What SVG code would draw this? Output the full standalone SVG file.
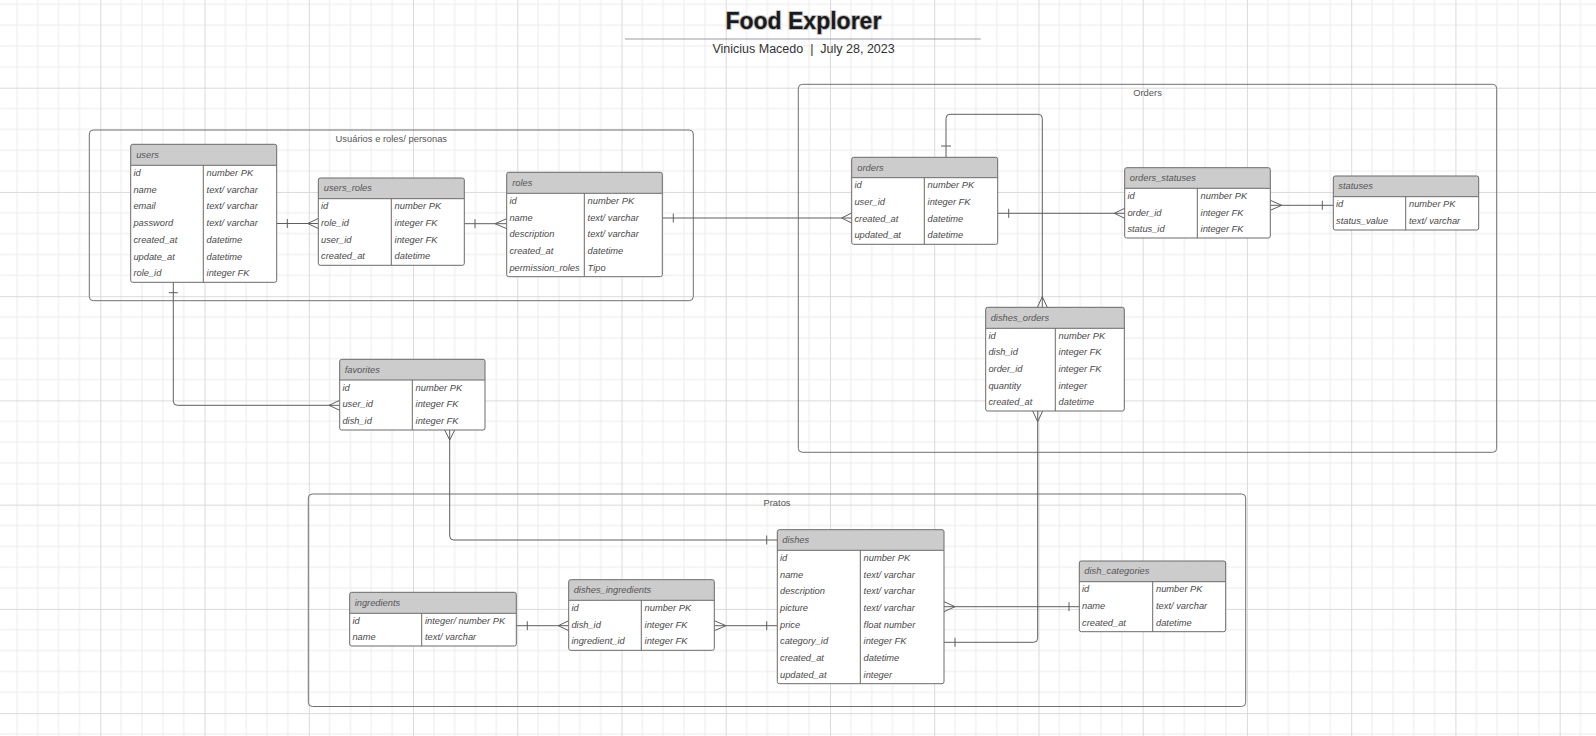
<svg xmlns="http://www.w3.org/2000/svg" width="1596" height="736" viewBox="0 0 1596 736">
<defs>
<pattern id="grid" patternUnits="userSpaceOnUse" x="-3.94" y="-16.54" width="104.24" height="104.24">
<path d="M20.85 0V104.24M41.7 0V104.24M62.54 0V104.24M83.39 0V104.24M0 20.85H104.24M0 41.7H104.24M0 62.54H104.24M0 83.39H104.24" stroke="#ececec" stroke-width="1" fill="none"/>
<path d="M0.5 0V104.24M0 0.5H104.24" stroke="#dadada" stroke-width="1" fill="none"/>
</pattern>
<style>
.box{fill:#fff;stroke:none}
.hdr{fill:#cccccc}
.bd{fill:none;stroke:#6a6a6a;stroke-width:1}
.sep{stroke:#6a6a6a;stroke-width:1}
.t{font-family:"Liberation Sans",Arial,sans-serif;font-size:9.3px;font-style:italic;fill:#4a4a4a}
.h{font-family:"Liberation Sans",Arial,sans-serif;font-size:9.3px;font-style:italic;fill:#555}
.cont{fill:none;stroke:#707070;stroke-width:1}
.cl{font-family:"Liberation Sans",Arial,sans-serif;font-size:9.4px;fill:#555;text-anchor:middle}
.cn{fill:none;stroke:#5e5e5e;stroke-width:1}
.sub{font-family:"Liberation Sans",Arial,sans-serif;font-size:12.5px;fill:#333;white-space:pre}
</style>
</defs>
<rect width="1596" height="736" fill="#fff"/>
<rect width="1596" height="736" fill="url(#grid)"/>

<g id="title">
<text x="803.4" y="29.3" text-anchor="middle" font-family="'Liberation Sans',Arial,sans-serif" font-size="23" font-weight="bold" fill="#1a1a1a" stroke="#c4c4c4" stroke-width="2" paint-order="stroke" stroke-linejoin="round">Food Explorer</text>
<line x1="625" y1="39" x2="980.7" y2="39" stroke="#9a9ca8" stroke-width="1"/>
<text class="sub" x="803.6" y="53.3" text-anchor="middle" xml:space="preserve">Vinicius Macedo  |  July 28, 2023</text>
</g>

<g id="container-usuarios">
<rect class="cont" x="89.3" y="130" width="604" height="170.7" rx="4"/>
<text class="cl" x="391.3" y="142">Usuários e roles/ personas</text>
</g>
<g id="container-orders">
<rect class="cont" x="798.3" y="84.3" width="698.4" height="368" rx="4"/>
<text class="cl" x="1147.5" y="96">Orders</text>
</g>
<g id="container-pratos">
<rect class="cont" x="308.3" y="494" width="937.4" height="212.5" rx="4"/>
<text class="cl" x="777" y="505.7">Pratos</text>
</g>

<g id="connectors">
<path class="cn" d="M276.7 223.5H318.3M287.3 219V228M307.7 223.5L318.3 218.5M307.7 223.5L318.3 228.5"/>
<path class="cn" d="M464.3 223.7H506.7M475 219.2V228.2M495 223.7L506.7 218.7M495 223.7L506.7 228.7"/>
<path class="cn" d="M662.3 218H851.7M673.3 213.5V222.5M841.7 218L851.7 213M841.7 218L851.7 223"/>
<path class="cn" d="M946 157.3V118.3Q946 114.3 950 114.3H1038.3Q1042.3 114.3 1042.3 118.3V307.3M941 146H951M1042.3 296.7L1037.3 307.3M1042.3 296.7L1047.3 307.3"/>
<path class="cn" d="M997.7 213.3H1124.7M1008.7 208.8V217.8M1114.3 213.3L1124.7 208.3M1114.3 213.3L1124.7 218.3"/>
<path class="cn" d="M1270.3 205.3H1333.3M1281.7 205.3L1270.3 200.3M1281.7 205.3L1270.3 210.3M1322.3 200.8V209.8"/>
<path class="cn" d="M1037.7 411V638.3Q1037.7 642.3 1033.7 642.3H944M1037.7 421.7L1032.7 411M1037.7 421.7L1042.7 411M955 637.8V646.8"/>
<path class="cn" d="M173.3 282.3V401.3Q173.3 405.3 177.3 405.3H339.7M168.8 292.7H177.8M329 405.3L339.7 400.3M329 405.3L339.7 410.3"/>
<path class="cn" d="M449.7 430V536Q449.7 540 453.7 540H777.3M449.7 440L444.7 430M449.7 440L454.7 430M766.7 535.5V544.5"/>
<path class="cn" d="M516.3 625.7H568.7M527.3 621.2V630.2M558.3 625.7L568.7 620.7M558.3 625.7L568.7 630.7"/>
<path class="cn" d="M714.3 625.7H777.3M726 625.7L714.3 620.7M726 625.7L714.3 630.7M766.7 621.2V630.2"/>
<path class="cn" d="M944 606.7H1079.3M955 606.7L944 601.7M955 606.7L944 611.7M1069 602.2V611.2"/>
</g>

<g id="users">
<rect class="box" x="130.7" y="144.3" width="146" height="138" rx="2"/>
<rect class="hdr" x="130.7" y="144.3" width="146" height="21" rx="2"/>
<rect class="bd" x="130.7" y="144.3" width="146" height="138" rx="2"/>
<line class="sep" x1="130.7" y1="165.3" x2="276.7" y2="165.3"/>
<line class="sep" x1="203.3" y1="165.3" x2="203.3" y2="282.3"/>
<text class="h" x="136.2" y="157.8">users</text>
<text class="t" x="133.4" y="176">id</text><text class="t" x="206.6" y="176">number PK</text>
<text class="t" x="133.4" y="192.7">name</text><text class="t" x="206.6" y="192.7">text/ varchar</text>
<text class="t" x="133.4" y="209.4">email</text><text class="t" x="206.6" y="209.4">text/ varchar</text>
<text class="t" x="133.4" y="226.1">password</text><text class="t" x="206.6" y="226.1">text/ varchar</text>
<text class="t" x="133.4" y="242.8">created_at</text><text class="t" x="206.6" y="242.8">datetime</text>
<text class="t" x="133.4" y="259.5">update_at</text><text class="t" x="206.6" y="259.5">datetime</text>
<text class="t" x="133.4" y="276.2">role_id</text><text class="t" x="206.6" y="276.2">integer FK</text>
</g>

<g id="users_roles">
<rect class="box" x="318.3" y="178" width="146" height="87.3" rx="2"/>
<rect class="hdr" x="318.3" y="178" width="146" height="20.7" rx="2"/>
<rect class="bd" x="318.3" y="178" width="146" height="87.3" rx="2"/>
<line class="sep" x1="318.3" y1="198.7" x2="464.3" y2="198.7"/>
<line class="sep" x1="391.3" y1="198.7" x2="391.3" y2="265.3"/>
<text class="h" x="323.8" y="191.4">users_roles</text>
<text class="t" x="321" y="209.3">id</text><text class="t" x="394.6" y="209.3">number PK</text>
<text class="t" x="321" y="226">role_id</text><text class="t" x="394.6" y="226">integer FK</text>
<text class="t" x="321" y="242.6">user_id</text><text class="t" x="394.6" y="242.6">integer FK</text>
<text class="t" x="321" y="259.3">created_at</text><text class="t" x="394.6" y="259.3">datetime</text>
</g>

<g id="roles">
<rect class="box" x="506.7" y="172.3" width="155.6" height="104.4" rx="2"/>
<rect class="hdr" x="506.7" y="172.3" width="155.6" height="21" rx="2"/>
<rect class="bd" x="506.7" y="172.3" width="155.6" height="104.4" rx="2"/>
<line class="sep" x1="506.7" y1="193.3" x2="662.3" y2="193.3"/>
<line class="sep" x1="584.3" y1="193.3" x2="584.3" y2="276.7"/>
<text class="h" x="512.2" y="185.8">roles</text>
<text class="t" x="509.4" y="203.9">id</text><text class="t" x="587.6" y="203.9">number PK</text>
<text class="t" x="509.4" y="220.6">name</text><text class="t" x="587.6" y="220.6">text/ varchar</text>
<text class="t" x="509.4" y="237.3">description</text><text class="t" x="587.6" y="237.3">text/ varchar</text>
<text class="t" x="509.4" y="254">created_at</text><text class="t" x="587.6" y="254">datetime</text>
<text class="t" x="509.4" y="270.7">permission_roles</text><text class="t" x="587.6" y="270.7">Tipo</text>
</g>

<g id="orders">
<rect class="box" x="851.7" y="157.3" width="146" height="87" rx="2"/>
<rect class="hdr" x="851.7" y="157.3" width="146" height="20.4" rx="2"/>
<rect class="bd" x="851.7" y="157.3" width="146" height="87" rx="2"/>
<line class="sep" x1="851.7" y1="177.7" x2="997.7" y2="177.7"/>
<line class="sep" x1="924.3" y1="177.7" x2="924.3" y2="244.3"/>
<text class="h" x="857.3" y="170.5">orders</text>
<text class="t" x="854.4" y="188.3">id</text><text class="t" x="927.6" y="188.3">number PK</text>
<text class="t" x="854.4" y="205">user_id</text><text class="t" x="927.6" y="205">integer FK</text>
<text class="t" x="854.4" y="221.6">created_at</text><text class="t" x="927.6" y="221.6">datetime</text>
<text class="t" x="854.4" y="238.3">updated_at</text><text class="t" x="927.6" y="238.3">datetime</text>
</g>

<g id="orders_statuses">
<rect class="box" x="1124.7" y="167.7" width="145.6" height="70.3" rx="2"/>
<rect class="hdr" x="1124.7" y="167.7" width="145.6" height="20.6" rx="2"/>
<rect class="bd" x="1124.7" y="167.7" width="145.6" height="70.3" rx="2"/>
<line class="sep" x1="1124.7" y1="188.3" x2="1270.3" y2="188.3"/>
<line class="sep" x1="1197.3" y1="188.3" x2="1197.3" y2="238"/>
<text class="h" x="1129.8" y="181">orders_statuses</text>
<text class="t" x="1127.4" y="198.9">id</text><text class="t" x="1200.6" y="198.9">number PK</text>
<text class="t" x="1127.4" y="215.5">order_id</text><text class="t" x="1200.6" y="215.5">integer FK</text>
<text class="t" x="1127.4" y="232">status_id</text><text class="t" x="1200.6" y="232">integer FK</text>
</g>

<g id="statuses">
<rect class="box" x="1333.3" y="176" width="145.4" height="54" rx="2"/>
<rect class="hdr" x="1333.3" y="176" width="145.4" height="20.7" rx="2"/>
<rect class="bd" x="1333.3" y="176" width="145.4" height="54" rx="2"/>
<line class="sep" x1="1333.3" y1="196.7" x2="1478.7" y2="196.7"/>
<line class="sep" x1="1405.7" y1="196.7" x2="1405.7" y2="230"/>
<text class="h" x="1338.3" y="189.4">statuses</text>
<text class="t" x="1336" y="207.3">id</text><text class="t" x="1409" y="207.3">number PK</text>
<text class="t" x="1336" y="224">status_value</text><text class="t" x="1409" y="224">text/ varchar</text>
</g>

<g id="dishes_orders">
<rect class="box" x="985.7" y="307.3" width="138.6" height="103.7" rx="2"/>
<rect class="hdr" x="985.7" y="307.3" width="138.6" height="21" rx="2"/>
<rect class="bd" x="985.7" y="307.3" width="138.6" height="103.7" rx="2"/>
<line class="sep" x1="985.7" y1="328.3" x2="1124.3" y2="328.3"/>
<line class="sep" x1="1055.3" y1="328.3" x2="1055.3" y2="411"/>
<text class="h" x="990.7" y="320.8">dishes_orders</text>
<text class="t" x="988.4" y="338.9">id</text><text class="t" x="1058.6" y="338.9">number PK</text>
<text class="t" x="988.4" y="355.4">dish_id</text><text class="t" x="1058.6" y="355.4">integer FK</text>
<text class="t" x="988.4" y="372">order_id</text><text class="t" x="1058.6" y="372">integer FK</text>
<text class="t" x="988.4" y="388.5">quantity</text><text class="t" x="1058.6" y="388.5">integer</text>
<text class="t" x="988.4" y="405">created_at</text><text class="t" x="1058.6" y="405">datetime</text>
</g>

<g id="favorites">
<rect class="box" x="339.7" y="359.3" width="145.3" height="70.7" rx="2"/>
<rect class="hdr" x="339.7" y="359.3" width="145.3" height="20.7" rx="2"/>
<rect class="bd" x="339.7" y="359.3" width="145.3" height="70.7" rx="2"/>
<line class="sep" x1="339.7" y1="380" x2="485" y2="380"/>
<line class="sep" x1="412.3" y1="380" x2="412.3" y2="430"/>
<text class="h" x="344.7" y="372.7">favorites</text>
<text class="t" x="342.4" y="390.6">id</text><text class="t" x="415.6" y="390.6">number PK</text>
<text class="t" x="342.4" y="407.3">user_id</text><text class="t" x="415.6" y="407.3">integer FK</text>
<text class="t" x="342.4" y="424">dish_id</text><text class="t" x="415.6" y="424">integer FK</text>
</g>

<g id="ingredients">
<rect class="box" x="349.7" y="592.3" width="166.6" height="53.7" rx="2"/>
<rect class="hdr" x="349.7" y="592.3" width="166.6" height="21" rx="2"/>
<rect class="bd" x="349.7" y="592.3" width="166.6" height="53.7" rx="2"/>
<line class="sep" x1="349.7" y1="613.3" x2="516.3" y2="613.3"/>
<line class="sep" x1="421.7" y1="613.3" x2="421.7" y2="646"/>
<text class="h" x="354.7" y="605.8">ingredients</text>
<text class="t" x="352.4" y="623.8">id</text><text class="t" x="425" y="623.8">integer/ number PK</text>
<text class="t" x="352.4" y="640.1">name</text><text class="t" x="425" y="640.1">text/ varchar</text>
</g>

<g id="dishes_ingredients">
<rect class="box" x="568.7" y="579.7" width="145.6" height="70.6" rx="2"/>
<rect class="hdr" x="568.7" y="579.7" width="145.6" height="20.6" rx="2"/>
<rect class="bd" x="568.7" y="579.7" width="145.6" height="70.6" rx="2"/>
<line class="sep" x1="568.7" y1="600.3" x2="714.3" y2="600.3"/>
<line class="sep" x1="641.3" y1="600.3" x2="641.3" y2="650.3"/>
<text class="h" x="573.7" y="593">dishes_ingredients</text>
<text class="t" x="571.4" y="610.9">id</text><text class="t" x="644.6" y="610.9">number PK</text>
<text class="t" x="571.4" y="627.6">dish_id</text><text class="t" x="644.6" y="627.6">integer FK</text>
<text class="t" x="571.4" y="644.3">ingredient_id</text><text class="t" x="644.6" y="644.3">integer FK</text>
</g>

<g id="dishes">
<rect class="box" x="777.3" y="529.7" width="166.7" height="154" rx="2"/>
<rect class="hdr" x="777.3" y="529.7" width="166.7" height="20.6" rx="2"/>
<rect class="bd" x="777.3" y="529.7" width="166.7" height="154" rx="2"/>
<line class="sep" x1="777.3" y1="550.3" x2="944" y2="550.3"/>
<line class="sep" x1="860.3" y1="550.3" x2="860.3" y2="683.7"/>
<text class="h" x="782.3" y="543">dishes</text>
<text class="t" x="780" y="560.9">id</text><text class="t" x="863.6" y="560.9">number PK</text>
<text class="t" x="780" y="577.6">name</text><text class="t" x="863.6" y="577.6">text/ varchar</text>
<text class="t" x="780" y="594.3">description</text><text class="t" x="863.6" y="594.3">text/ varchar</text>
<text class="t" x="780" y="611">picture</text><text class="t" x="863.6" y="611">text/ varchar</text>
<text class="t" x="780" y="627.7">price</text><text class="t" x="863.6" y="627.7">float number</text>
<text class="t" x="780" y="644.3">category_id</text><text class="t" x="863.6" y="644.3">integer FK</text>
<text class="t" x="780" y="661">created_at</text><text class="t" x="863.6" y="661">datetime</text>
<text class="t" x="780" y="677.7">updated_at</text><text class="t" x="863.6" y="677.7">integer</text>
</g>

<g id="dish_categories">
<rect class="box" x="1079.3" y="561" width="146.4" height="70.7" rx="2"/>
<rect class="hdr" x="1079.3" y="561" width="146.4" height="20.7" rx="2"/>
<rect class="bd" x="1079.3" y="561" width="146.4" height="70.7" rx="2"/>
<line class="sep" x1="1079.3" y1="581.7" x2="1225.7" y2="581.7"/>
<line class="sep" x1="1152.7" y1="581.7" x2="1152.7" y2="631.7"/>
<text class="h" x="1084.3" y="574.4">dish_categories</text>
<text class="t" x="1082" y="592.3">id</text><text class="t" x="1156" y="592.3">number PK</text>
<text class="t" x="1082" y="609">name</text><text class="t" x="1156" y="609">text/ varchar</text>
<text class="t" x="1082" y="625.7">created_at</text><text class="t" x="1156" y="625.7">datetime</text>
</g>
</svg>
